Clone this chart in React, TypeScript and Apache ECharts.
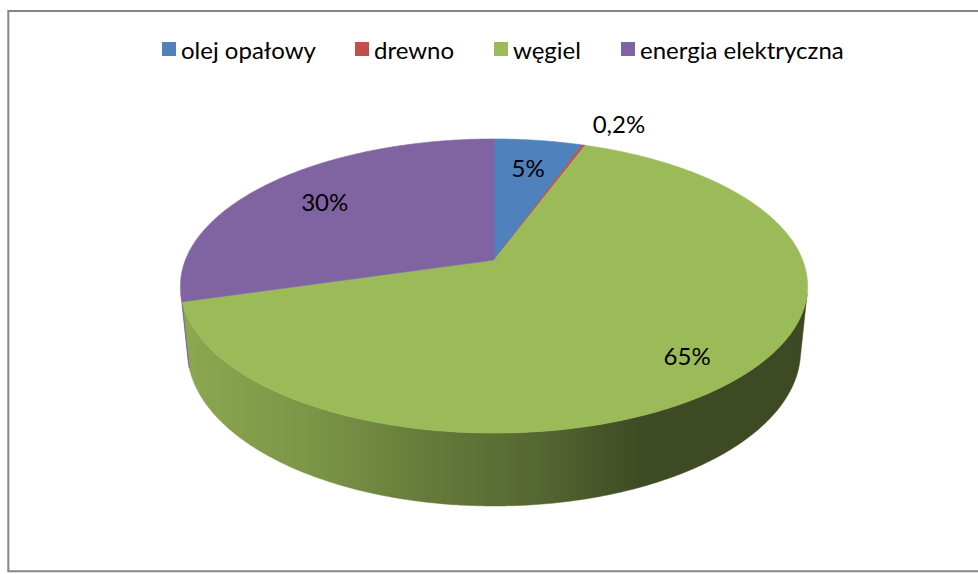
import React, { useEffect, useRef } from "react";
import * as echarts from "echarts";

// ---- data ----
const categories = ["olej opałowy", "drewno", "węgiel", "energia elektryczna"];
const shares = [5.4, 0.2, 64.9, 29.5];
const colors = ["#4F81BD", "#C0504D", "#9BBB59", "#8064A2"];

// ---- layout (3D perspective camera) ----
const CX = 494;
const CY = 260;
const F = 1546;
const D = 5.01;
const SIN_E = 0.4616;
const COS_E = 0.887;
const H = 0.239;
const LEGEND_X = [157, 350, 489, 616];
const FONT = "Lato, 'Open Sans', sans-serif";

const toRad = Math.PI / 180;

function project(x: number, y: number, z: number): [number, number] {
  const depth = D - y * SIN_E - z * COS_E;
  return [CX + (F * x) / depth, CY - (F * (y * COS_E - z * SIN_E)) / depth];
}
function topPoint(theta: number, k = 1): [number, number] {
  return project(k * Math.sin(theta * toRad), 0, -k * Math.cos(theta * toRad));
}
function bottomPoint(theta: number): [number, number] {
  return project(Math.sin(theta * toRad), -H, -Math.cos(theta * toRad));
}

// visible (front-facing) range of the outer wall
const zLim = 1 / (D * COS_E);
const WALL_MIN = Math.acos(-zLim) / toRad;
const WALL_MAX = 360 - WALL_MIN;

const shadeStops: [number, number][] = [
  [183, 0.9],
  [320, 0.79],
  [440, 0.64],
  [540, 0.55],
  [600, 0.46],
  [640, 0.4],
  [808, 0.39],
];

function wallGradient(hex: string) {
  const r = parseInt(hex.slice(1, 3), 16);
  const g = parseInt(hex.slice(3, 5), 16);
  const b = parseInt(hex.slice(5, 7), 16);
  const x0 = shadeStops[0][0];
  const x1 = shadeStops[shadeStops.length - 1][0];
  const stops = shadeStops.map(([x, f]) => ({
    offset: (x - x0) / (x1 - x0),
    color: `rgb(${Math.round(r * f)},${Math.round(g * f)},${Math.round(b * f)})`,
  }));
  return new echarts.graphic.LinearGradient(x0, 0, x1, 0, stops, true);
}

function formatShare(v: number) {
  return v < 1 ? v.toFixed(1).replace(".", ",") + "%" : Math.round(v) + "%";
}

export default function App() {
  const ref = useRef<HTMLDivElement>(null);

  useEffect(() => {
    if (!ref.current) return;
    const chart = echarts.init(ref.current, null, { renderer: "svg" });

    const total = shares.reduce((s, v) => s + v, 0);
    const slices: { start: number; end: number }[] = [];
    let cum = 0;
    for (const v of shares) {
      const start = (cum / total) * 360;
      cum += v;
      slices.push({ start, end: (cum / total) * 360 });
    }

    const wallSeries: any = {
      type: "custom",
      name: "_walls",
      coordinateSystem: "none",
      silent: true,
      z: 1,
      data: slices.map((s, i) => [s.start, s.end, i]),
      renderItem: (_p: any, api: any) => {
        const a = Math.max(api.value(0), WALL_MIN);
        const b = Math.min(api.value(1), WALL_MAX);
        const idx = api.value(2);
        if (b <= a) return { type: "group", children: [] };
        const n = Math.max(2, Math.ceil((b - a) / 0.5));
        const pts: [number, number][] = [];
        for (let j = 0; j <= n; j++) pts.push(topPoint(a + ((b - a) * j) / n));
        for (let j = n; j >= 0; j--) pts.push(bottomPoint(a + ((b - a) * j) / n));
        const grad = wallGradient(colors[idx]);
        return {
          type: "polygon",
          shape: { points: pts },
          style: { fill: grad, stroke: grad, lineWidth: 0.5 },
        };
      },
    };

    const topSeries: any[] = categories.map((name, i) => ({
      type: "custom",
      name,
      coordinateSystem: "none",
      silent: true,
      z: 2,
      itemStyle: { color: colors[i] },
      data: [[slices[i].start, slices[i].end]],
      renderItem: (_p: any, api: any) => {
        const a = api.value(0);
        const b = api.value(1);
        const n = Math.max(2, Math.ceil((b - a) / 0.5));
        const pts: [number, number][] = [project(0, 0, 0)];
        for (let j = 0; j <= n; j++) pts.push(topPoint(a + ((b - a) * j) / n));
        return {
          type: "polygon",
          shape: { points: pts },
          style: { fill: colors[i], stroke: colors[i], lineWidth: 0.6 },
        };
      },
    }));

    const labelSeries: any = {
      type: "custom",
      name: "_labels",
      coordinateSystem: "none",
      silent: true,
      z: 3,
      data: slices.map((s, i) => [(s.start + s.end) / 2, shares[i]]),
      renderItem: (_p: any, api: any) => {
        const mid = api.value(0);
        const v = api.value(1);
        const outside = v / total < 0.01;
        const k = outside ? 1.12 : mid > 90 && mid < 270 ? 0.82 : 0.74;
        const [x, y] = topPoint(mid, k);
        return {
          type: "text",
          x,
          y: outside ? y - 10 : y,
          style: {
            text: formatShare(v),
            fill: "#000000",
            font: `24px ${FONT}`,
            align: outside ? "left" : "center",
            verticalAlign: "middle",
          },
        };
      },
    };

    chart.setOption({
      animation: false,
      color: colors,
      legend: categories.map((name, i) => ({
        data: [{ name, icon: "rect" }],
        left: LEGEND_X[i],
        top: 32,
        itemWidth: 14,
        itemHeight: 14,
        selectedMode: false,
        textStyle: { fontFamily: FONT, fontSize: 24, color: "#000000" },
      })),
      graphic: [
        {
          type: "rect",
          shape: { x: 8.3, y: 10.9, width: 1000, height: 560.3 },
          style: { fill: "none", stroke: "#868686", lineWidth: 2 },
          silent: true,
        },
      ],
      series: [wallSeries, ...topSeries, labelSeries],
    });

    return () => chart.dispose();
  }, []);

  return (
    <div
      ref={ref}
      style={{ position: "absolute", left: 0, top: 0, width: 978, height: 574 }}
    />
  );
}
